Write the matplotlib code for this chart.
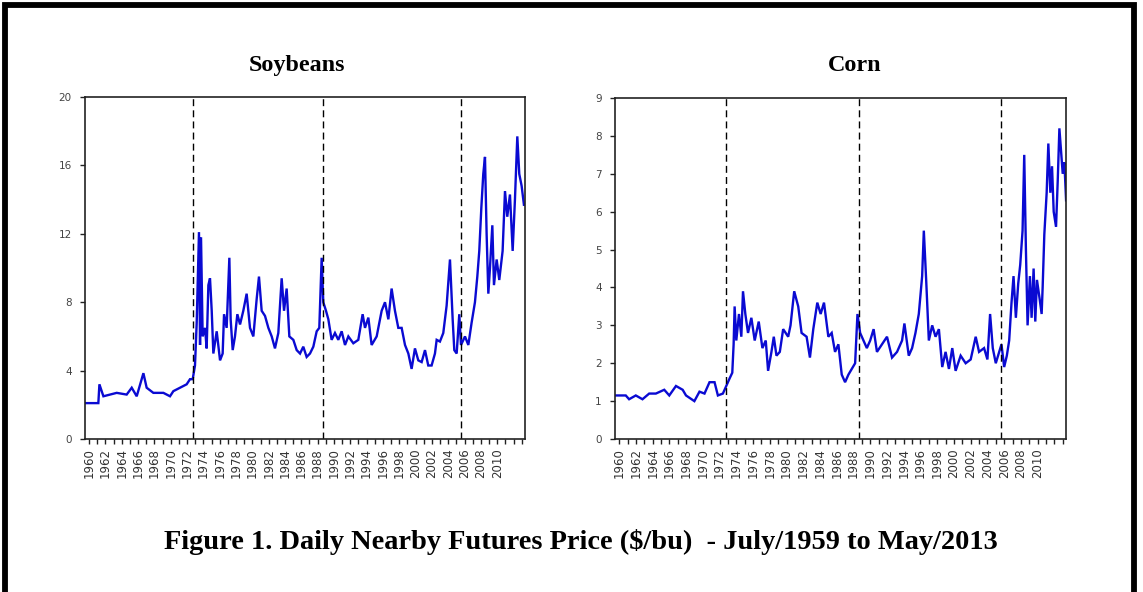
import numpy as np
import matplotlib
matplotlib.use("Agg")
import matplotlib.pyplot as plt
from matplotlib.patches import Rectangle

# ---------- data (year, $/bu) ----------
SOY_YEARS = [1959.50, 1961.13, 1961.26, 1961.75, 1962.56, 1963.38, 1964.60, 1965.22,
             1965.83, 1966.65, 1967.05, 1967.87, 1969.10, 1969.91, 1970.32, 1971.14,
             1971.95, 1972.36, 1972.69, 1972.97, 1973.18, 1973.30, 1973.46, 1973.59,
             1973.71, 1973.91, 1974.20, 1974.40, 1974.61, 1974.81, 1975.02, 1975.22,
             1975.63, 1976.04, 1976.36, 1976.53, 1976.85, 1977.18, 1977.34, 1977.59,
             1977.87, 1978.16, 1978.49, 1978.89, 1979.30, 1979.71, 1980.12, 1980.53,
             1980.81, 1981.14, 1981.55, 1981.96, 1982.37, 1982.77, 1983.18, 1983.59,
             1983.88, 1984.20, 1984.53, 1985.02, 1985.43, 1985.84, 1986.24, 1986.65,
             1987.06, 1987.47, 1987.88, 1988.20, 1988.49, 1988.69, 1989.02, 1989.31,
             1989.71, 1990.12, 1990.53, 1990.94, 1991.35, 1991.76, 1992.37, 1992.98,
             1993.51, 1993.80, 1994.21, 1994.61, 1995.23, 1995.84, 1996.25, 1996.66,
             1997.06, 1997.47, 1997.88, 1998.29, 1998.70, 1999.11, 1999.51, 1999.92,
             2000.33, 2000.74, 2001.15, 2001.55, 2001.96, 2002.37, 2002.58, 2002.98,
             2003.39, 2003.80, 2004.21, 2004.54, 2004.74, 2005.03, 2005.35, 2005.56,
             2006.05, 2006.46, 2006.86, 2007.27, 2007.56, 2007.80, 2008.05, 2008.29,
             2008.50, 2008.70, 2008.91, 2009.11, 2009.40, 2009.60, 2009.93, 2010.25,
             2010.66, 2010.95, 2011.23, 2011.56, 2011.89, 2012.17, 2012.46, 2012.70,
             2012.99, 2013.27]
SOY_PRICE = [2.1, 2.1, 3.2, 2.5, 2.6, 2.7, 2.6, 3.0,
             2.5, 3.85, 3.0, 2.7, 2.7, 2.5, 2.8, 3.0,
             3.2, 3.5, 3.5, 4.3, 6.8, 9.0, 12.1, 5.5,
             11.8, 6.0, 6.5, 5.3, 9.0, 9.4, 7.5, 5.0,
             6.3, 4.6, 5.0, 7.3, 6.5, 10.6, 7.0, 5.2,
             6.0, 7.3, 6.7, 7.5, 8.5, 6.5, 6.0, 8.2,
             9.5, 7.5, 7.2, 6.5, 6.0, 5.3, 6.2, 9.4,
             7.5, 8.8, 6.0, 5.8, 5.2, 5.0, 5.4, 4.8,
             5.0, 5.4, 6.3, 6.5, 10.6, 8.0, 7.5, 7.0,
             5.8, 6.2, 5.8, 6.3, 5.5, 6.0, 5.6, 5.8,
             7.3, 6.5, 7.1, 5.5, 6.0, 7.5, 8.0, 7.0,
             8.8, 7.5, 6.5, 6.5, 5.5, 5.0, 4.1, 5.3,
             4.6, 4.5, 5.2, 4.3, 4.3, 5.0, 5.8, 5.7,
             6.2, 7.8, 10.5, 7.0, 5.2, 5.0, 7.3, 5.5,
             6.0, 5.5, 6.8, 8.0, 9.5, 11.0, 13.5, 15.5,
             16.5, 12.0, 8.5, 10.0, 12.5, 9.0, 10.5, 9.3,
             11.0, 14.5, 13.0, 14.3, 11.0, 14.0, 17.7, 15.5,
             14.8, 13.7]

CORN_YEARS = [1959.50, 1960.78, 1961.18, 1961.98, 1962.78, 1963.58, 1964.38, 1965.38,
              1965.98, 1966.78, 1967.58, 1967.98, 1968.98, 1969.59, 1970.19, 1970.79,
              1971.39, 1971.79, 1972.39, 1972.79, 1973.19, 1973.51, 1973.67, 1973.79,
              1973.99, 1974.31, 1974.59, 1974.79, 1975.07, 1975.39, 1975.79, 1976.19,
              1976.67, 1977.11, 1977.51, 1977.79, 1978.19, 1978.47, 1978.79, 1979.19,
              1979.59, 1980.19, 1980.47, 1980.91, 1981.39, 1981.79, 1982.39, 1982.79,
              1983.19, 1983.67, 1984.07, 1984.47, 1984.99, 1985.39, 1985.79, 1986.19,
              1986.59, 1986.99, 1987.39, 1987.79, 1988.19, 1988.47, 1988.79, 1989.19,
              1989.59, 1989.99, 1990.40, 1990.80, 1991.40, 1992.00, 1992.60, 1993.20,
              1993.80, 1994.08, 1994.60, 1995.00, 1995.40, 1995.80, 1996.20, 1996.40,
              1996.68, 1997.00, 1997.40, 1997.80, 1998.20, 1998.60, 1999.00, 1999.40,
              1999.80, 2000.20, 2000.80, 2001.40, 2002.00, 2002.60, 2003.00, 2003.60,
              2004.00, 2004.32, 2004.64, 2005.00, 2005.40, 2005.68, 2006.00, 2006.32,
              2006.60, 2006.88, 2007.12, 2007.40, 2007.68, 2007.92, 2008.20, 2008.40,
              2008.60, 2008.80, 2009.08, 2009.28, 2009.52, 2009.72, 2009.92, 2010.24,
              2010.48, 2010.60, 2010.80, 2011.08, 2011.28, 2011.52, 2011.72, 2011.92,
              2012.20, 2012.40, 2012.60, 2012.80, 2013.00, 2013.20, 2013.40]
CORN_PRICE = [1.15, 1.15, 1.05, 1.15, 1.05, 1.2, 1.2, 1.3,
              1.15, 1.4, 1.3, 1.15, 1.0, 1.25, 1.2, 1.5,
              1.5, 1.15, 1.2, 1.4, 1.6, 1.75, 2.5, 3.5,
              2.6, 3.3, 2.7, 3.9, 3.3, 2.8, 3.2, 2.6,
              3.1, 2.4, 2.6, 1.8, 2.3, 2.7, 2.2, 2.3,
              2.9, 2.7, 3.0, 3.9, 3.5, 2.8, 2.7, 2.15,
              2.9, 3.6, 3.3, 3.6, 2.7, 2.8, 2.3, 2.5,
              1.7, 1.5, 1.7, 1.85, 2.0, 3.3, 2.8, 2.6,
              2.4, 2.6, 2.9, 2.3, 2.5, 2.7, 2.15, 2.3,
              2.6, 3.05, 2.2, 2.4, 2.8, 3.3, 4.3, 5.5,
              4.2, 2.6, 3.0, 2.7, 2.9, 1.9, 2.3, 1.85,
              2.4, 1.8, 2.2, 2.0, 2.1, 2.7, 2.3, 2.4,
              2.1, 3.3, 2.4, 2.0, 2.3, 2.5, 1.9, 2.2,
              2.6, 3.6, 4.3, 3.2, 4.1, 4.6, 5.5, 7.5,
              5.0, 3.0, 4.3, 3.2, 4.5, 3.1, 4.2, 3.7,
              3.3, 4.0, 5.4, 6.5, 7.8, 6.5, 7.2, 6.0,
              5.6, 6.8, 8.2, 7.6, 7.0, 7.3, 6.3]

BREAK_YEARS = [1972.75, 1988.6, 2005.6]
LABEL_YEARS = list(range(1960, 2011, 2))
MINOR_YEARS = list(range(1960, 2014))
X_START, X_END = 1959.5, 2013.4

LINE_COLOR = "#0a0ad2"


def draw_panel(fig, rect, years, prices, title, yticks, ymax, title_x):
    ax = fig.add_axes(rect)
    ax.plot(years, prices, color=LINE_COLOR, linewidth=1.7, solid_joinstyle="miter")
    for b in BREAK_YEARS:
        ax.axvline(b, color="black", linestyle=(0, (5, 3)), linewidth=1.0)

    ax.set_xlim(X_START, X_END)
    ax.set_ylim(0, ymax)
    ax.set_yticks(yticks)
    ax.set_yticklabels([str(v) for v in yticks])
    ax.set_xticks(LABEL_YEARS)
    ax.set_xticklabels([str(y) for y in LABEL_YEARS], rotation=90)
    ax.set_xticks(MINOR_YEARS, minor=True)

    ax.tick_params(axis="both", which="both", direction="out", length=3.5,
                   width=1.0, colors="#222222", labelsize=8.5)
    ax.tick_params(axis="y", pad=6, labelcolor="#444444", labelsize=7.5)
    ax.tick_params(axis="x", pad=3, labelcolor="#333333")
    for s in ax.spines.values():
        s.set_linewidth(1.2)
        s.set_color("#222222")

    fig.text(title_x, 0.890, title, ha="center", va="center",
             family="Liberation Serif", fontweight="bold", fontsize=17.4)
    return ax


fig = plt.figure(figsize=(11.43, 5.92), dpi=100)

draw_panel(fig, [0.0744, 0.2584, 0.3849, 0.5777], SOY_YEARS, SOY_PRICE,
           "Soybeans", [0, 4, 8, 12, 16, 20], 20, 0.260)
draw_panel(fig, [0.5381, 0.2584, 0.3946, 0.5760], CORN_YEARS, CORN_PRICE,
           "Corn", list(range(0, 10)), 9, 0.748)

fig.text(0.508, 0.085,
         "Figure 1. Daily Nearby Futures Price ($/bu)  - July/1959 to May/2013",
         ha="center", va="center", family="Liberation Serif",
         fontweight="bold", fontsize=20.4)

# thick frame around the whole figure
fig.patches.append(Rectangle((5 / 1143, -2 / 592), 1128.5 / 1143, 589 / 592,
                             transform=fig.transFigure, fill=False,
                             edgecolor="black", linewidth=4.2))

fig.savefig("out.png", dpi=100)
